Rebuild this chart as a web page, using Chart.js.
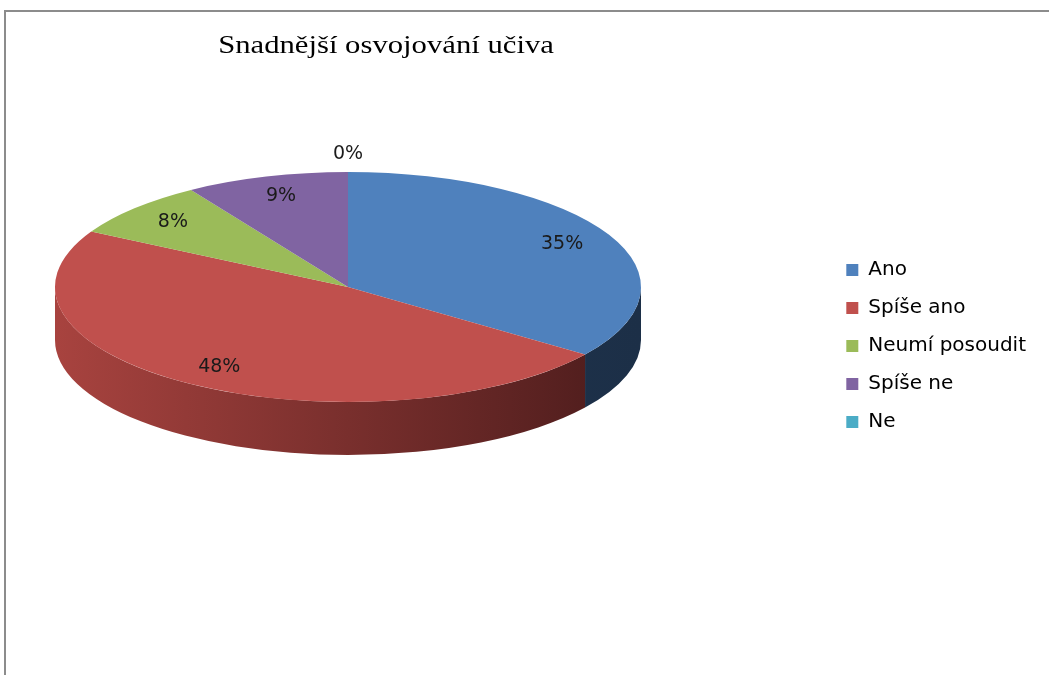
<!DOCTYPE html>
<html>
<head>
<meta charset="utf-8">
<script src="https://cdn.jsdelivr.net/npm/chart.js@4/dist/chart.umd.min.js"></script>
<style>
  html, body { margin: 0; padding: 0; background: #fff; }
  #wrap { position: relative; width: 1049px; height: 675px; overflow: hidden; }
  #frame { position: absolute; left: 4px; top: 10px; right: -10px; bottom: -10px;
           border-top: 2px solid #8c8c8c; border-left: 2px solid #8c8c8c; }
  canvas { position: absolute; left: 0; top: 0; }
</style>
</head>
<body>
<div id="wrap">
  <div id="frame"></div>
  <canvas id="pieChart" width="1049" height="675"></canvas>
</div>
<script>
// Data
const chartTitle = 'Snadnější osvojování učiva';
const categories = ['Ano', 'Spíše ano', 'Neumí posoudit', 'Spíše ne', 'Ne'];
const shares = [35, 48, 8, 9, 0];
const topColors = ['#4f81bd', '#c0504d', '#9bbb59', '#8064a2', '#4bacc6'];
const sideColors = [['#233a57', '#1c2f47'], ['#a8433f', '#4a1b1b'], ['#7a9446', '#5c7034'], ['#66507f', '#4c3c60'], ['#3a8aa0', '#2c6a7a']];

// 3D look: the flat pie gets squashed into an ellipse and given a side wall
const look = { cx: 348, cy: 287, rx: 293, ry: 115, depth: 53 };

const pie3d = {
  id: 'pie3d',
  beforeDatasetsDraw(chart) {
    const ctx = chart.ctx;
    const meta = chart.getDatasetMeta(0);
    const { cx, cy, rx, ry, depth } = look;

    // side wall, only the front half (0..PI) is visible
    meta.data.forEach((arc, i) => {
      const a = Math.max(arc.startAngle, 0);
      const b = Math.min(arc.endAngle, Math.PI);
      if (b <= a) return;
      const grad = ctx.createLinearGradient(cx - rx, 0, cx + rx, 0);
      grad.addColorStop(0, sideColors[i][0]);
      grad.addColorStop(1, sideColors[i][1]);
      ctx.beginPath();
      ctx.ellipse(cx, cy, rx, ry, 0, a, b);
      ctx.ellipse(cx, cy + depth, rx, ry, 0, b, a, true);
      ctx.closePath();
      ctx.fillStyle = grad;
      ctx.fill();
    });

    // map the library's circle onto the top ellipse
    const first = meta.data[0];
    const R = first.outerRadius;
    ctx.save();
    ctx.translate(cx, cy);
    ctx.scale(rx / R, ry / R);
    ctx.translate(-first.x, -first.y);
  },
  afterDatasetsDraw(chart) {
    const ctx = chart.ctx;
    ctx.restore();

    const meta = chart.getDatasetMeta(0);
    const values = chart.data.datasets[0].data;
    const { cx, cy, rx, ry } = look;
    ctx.save();
    ctx.font = '19px "DejaVu Sans"';
    ctx.fillStyle = '#1a1a1a';
    ctx.textAlign = 'center';
    ctx.textBaseline = 'middle';
    meta.data.forEach((arc, i) => {
      const mid = (arc.startAngle + arc.endAngle) / 2;
      const f = values[i] === 0 ? 1.16 : 0.82;
      ctx.fillText(values[i] + '%', cx + rx * f * Math.cos(mid), cy + ry * f * Math.sin(mid));
    });

    // title, a bit stretched like the original
    ctx.font = '26px "Liberation Serif"';
    ctx.fillStyle = '#000';
    ctx.textBaseline = 'alphabetic';
    ctx.translate(386, 53);
    ctx.scale(1.18, 1);
    ctx.fillText(chartTitle, 0, 0);
    ctx.restore();
  }
};

const ctx = document.getElementById('pieChart').getContext('2d');
const pieChart = new Chart(ctx, {
  type: 'pie',
  data: {
    labels: categories,
    datasets: [{
      data: shares,
      backgroundColor: topColors,
      borderWidth: 0,
      clip: false
    }]
  },
  options: {
    responsive: false,
    animation: false,
    layout: { padding: { top: 17, right: 13, bottom: 0, left: 0 } },
    plugins: {
      tooltip: { enabled: false },
      title: { display: false },
      legend: {
        position: 'right',
        labels: {
          boxWidth: 12,
          boxHeight: 12,
          padding: 18,
          color: '#000',
          font: { family: 'DejaVu Sans', size: 20 }
        }
      }
    }
  },
  plugins: [pie3d]
});
</script>
</body>
</html>
